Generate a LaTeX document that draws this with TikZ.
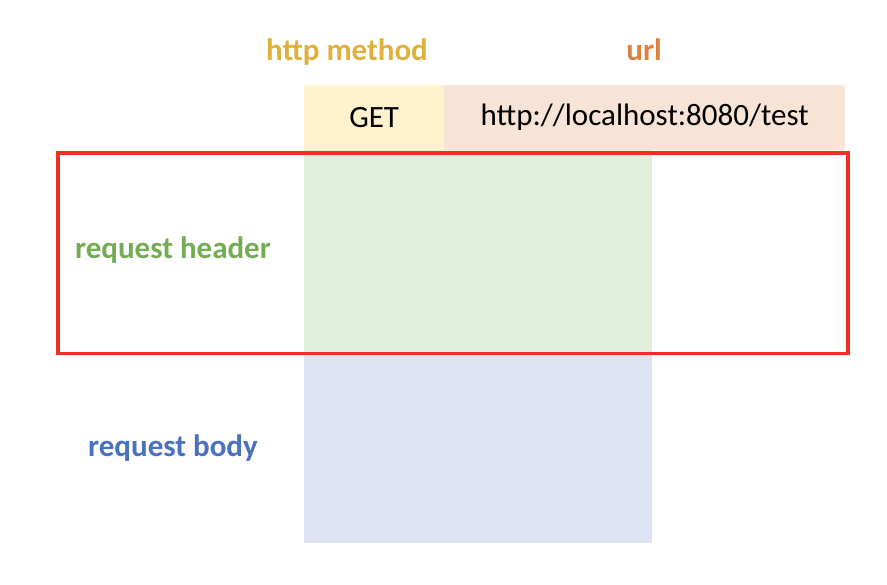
\documentclass[tikz,border=0pt]{standalone}
\usepackage{fontspec}
\setmainfont{Carlito}
\definecolor{methodgold}{HTML}{DFB13C}
\definecolor{urlorange}{HTML}{E37F3E}
\definecolor{headgreen}{HTML}{74AB55}
\definecolor{bodyblue}{HTML}{4A70C0}
\definecolor{getfill}{HTML}{FFF2CC}
\definecolor{urlfill}{HTML}{F7E4D7}
\definecolor{headfill}{HTML}{E2EFDA}
\definecolor{bodyfill}{HTML}{DDE3F2}
\definecolor{framered}{HTML}{EB3325}
\begin{document}
\begin{tikzpicture}
[x=1pt,y=-1pt,
every node/.style={font=\fontsize{31}{36}\selectfont},
label/.style={font=\bfseries\fontsize{31}{36}\selectfont},
cell/.style={anchor=north west,inner sep=0pt,minimum height=65pt}]
\useasboundingbox (0,0) rectangle (887,585);
% coloured blocks
\node[cell,fill=getfill,minimum width=140pt] (get) at (304,85) {GET};
\node[cell,fill=urlfill,minimum width=401pt] (url) at (444,85) {http://localhost:8080/test};
\node[cell,fill=headfill,minimum width=348pt,minimum height=202pt] (header) at (304,150) {};
\node[cell,fill=bodyfill,minimum width=348pt,minimum height=191pt] (body) at (304,352) {};
% frame round the header
\node[anchor=north west,draw=framered,line width=3.5pt,inner sep=0pt,
minimum width=790pt,minimum height=200.5pt] (frame) at (56,151.5) {};
% labels
\node[label,text=methodgold] (methodlbl) at (347,52) {http method};
\node[label,text=urlorange] (urllbl) at (644,50) {url};
\node[label,text=headgreen] (headlbl) at (173,250) {request header};
\node[label,text=bodyblue] (bodylbl) at (173,448) {request body};
\end{tikzpicture}
\end{document}
